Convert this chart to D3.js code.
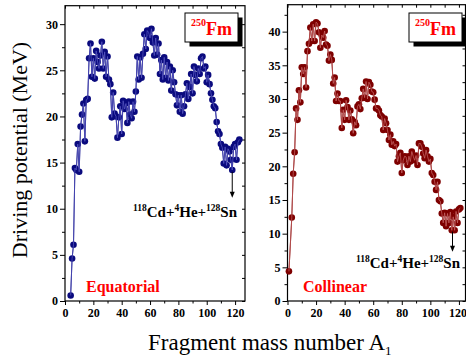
<!DOCTYPE html>
<html>
<head>
<meta charset="utf-8">
<script src="https://cdn.jsdelivr.net/npm/d3@7"></script>
<style>
  html, body { margin: 0; padding: 0; background: #fff; }
  svg { display: block; }
  text { font-family: "Liberation Serif", "Times New Roman", serif; }
</style>
</head>
<body>
<svg id="chart" width="466" height="359"></svg>
<script>
// ─── Data ────────────────────────────────────────────────────────────────────

// Equatorial orientation: fragment mass A1 and driving potential (MeV)
const eqMass = [
  4, 5, 6, 7, 8, 9, 10, 11, 12, 13, 14, 15, 16, 17, 18, 19, 20, 21, 22, 23,
  24, 25, 26, 27, 28, 29, 30, 31, 32, 33, 34, 35, 36, 37, 38, 39, 40, 41, 42, 43,
  44, 45, 46, 47, 48, 49, 50, 51, 52, 53, 54, 55, 56, 57, 58, 59, 60, 61, 62, 63,
  64, 65, 66, 67, 68, 69, 70, 71, 72, 73, 74, 75, 76, 77, 78, 79, 80, 81, 82, 83,
  84, 85, 86, 87, 88, 89, 90, 91, 92, 93, 94, 95, 96, 97, 98, 99, 100, 101, 102, 103,
  104, 105, 106, 107, 108, 109, 110, 111, 112, 113, 114, 115, 116, 117, 118, 119, 120, 121, 122, 123
]
const eqV = [
  0.6, 4.6, 6.1, 14.4, 14.2, 17.0, 14.0, 18.9, 20.2, 21.4, 17.3, 21.8, 21.9, 26.3, 27.9, 24.3, 26.3, 24.1, 27.1, 25.9,
  25.2, 26.6, 28.1, 25.2, 27.0, 24.3, 26.5, 24.0, 23.5, 19.9, 22.6, 20.3, 20.0, 17.7, 19.9, 21.1, 18.1, 21.7, 20.8, 21.4,
  19.3, 21.6, 20.2, 19.8, 21.6, 20.5, 22.7, 26.5, 24.0, 26.4, 24.2, 26.8, 28.9, 27.3, 29.3, 29.1, 28.5, 29.5, 28.0, 26.6,
  28.5, 26.7, 27.9, 24.6, 26.1, 24.0, 26.4, 24.2, 25.9, 23.9, 25.4, 22.8, 25.0, 23.7, 22.4, 21.2, 22.3, 20.5, 22.3, 20.3,
  21.1, 22.4, 23.6, 21.9, 23.2, 24.6, 22.5, 25.4, 24.5, 23.8, 25.2, 24.6, 26.3, 26.5, 25.2, 25.4, 23.7, 24.5, 23.5, 22.5,
  21.8, 21.1, 20.9, 19.4, 18.4, 18.1, 17.0, 16.6, 14.9, 16.7, 14.7, 16.5, 16.2, 15.3, 14.2, 16.7, 17.0, 15.3, 17.2, 17.5
]

// Collinear orientation
const colMass = [
  1, 3, 4, 5, 6, 7, 8, 9, 10, 11, 12, 13, 14, 15, 16, 17, 18, 19, 20, 21,
  22, 23, 24, 25, 26, 27, 28, 29, 30, 31, 32, 33, 34, 35, 36, 37, 38, 39, 40, 41,
  42, 43, 44, 45, 46, 47, 48, 49, 50, 51, 52, 53, 54, 55, 56, 57, 58, 59, 60, 61,
  62, 63, 64, 65, 66, 67, 68, 69, 70, 71, 72, 73, 74, 75, 76, 77, 78, 79, 80, 81,
  82, 83, 84, 85, 86, 87, 88, 89, 90, 91, 92, 93, 94, 95, 96, 97, 98, 99, 100, 101,
  102, 103, 104, 105, 106, 107, 108, 109, 110, 111, 112, 113, 114, 115, 116, 117, 118, 119, 120, 121
]
const colV = [
  4.4, 12.4, 18.9, 22.1, 28.6, 26.9, 31.3, 29.5, 34.7, 33.7, 34.7, 31.7, 37.1, 38.2, 40.6, 38.6, 41.1, 38.6, 41.4, 41.2,
  39.9, 37.6, 39.5, 39.1, 40.1, 38.1, 37.9, 35.7, 36.6, 35.8, 32.3, 33.2, 29.7, 30.8, 29.7, 29.7, 25.7, 28.4, 26.9, 29.8,
  28.8, 26.9, 28.3, 27.0, 24.9, 26.6, 26.1, 28.9, 29.2, 28.5, 30.1, 31.5, 30.2, 32.6, 30.0, 32.5, 32.1, 31.1, 31.0, 29.9,
  28.6, 28.6, 28.3, 27.6, 27.4, 25.4, 27.1, 26.4, 25.4, 23.9, 24.7, 23.2, 23.7, 23.0, 23.3, 20.7, 21.5, 22.0, 19.0, 20.9,
  21.5, 21.4, 20.2, 21.5, 20.7, 22.2, 21.5, 20.9, 21.6, 20.2, 23.4, 23.4, 22.9, 21.9, 21.2, 22.4, 21.5, 20.7, 21.1, 19.0,
  18.7, 17.7, 16.5, 17.7, 15.0, 14.8, 13.0, 11.6, 13.1, 11.1, 13.0, 11.6, 13.2, 10.5, 12.5, 10.5, 13.3, 11.6, 13.6, 13.8
]

// Axis ticks
const xTicks = [0, 20, 40, 60, 80, 100, 120]
const xMinor = [10, 30, 50, 70, 90, 110]
const eqYTicks = [0, 5, 10, 15, 20, 25, 30]
const colYTicks = [0, 5, 10, 15, 20, 25, 30, 35, 40]

// Arrow to the 118Cd+4He+128Sn channel: [A1, from V, to V]
const eqArrow = [118, 14.0, 11.2]
const colArrow = [115.5, 10.3, 7.3]

// ─── Layout ──────────────────────────────────────────────────────────────────

const svg = d3.select('#chart')
const FONT = '"Liberation Serif", "Times New Roman", serif'

const panels = [
  {
    mass: eqMass, v: eqV, arrow: eqArrow,
    left: 65, right: 245, top: 5.7, bottom: 301,
    xMax: 127, yMax: 32, yTicks: eqYTicks,
    dot: '#0a0a7e', line: '#5b5bc4',
    label: 'Equatorial', labelX: 86,
    boxX: 185, annoX: 133, annoY: 217,
  },
  {
    mass: colMass, v: colV, arrow: colArrow,
    left: 287.5, right: 465.5, top: 4.7, bottom: 301,
    xMax: 124.6, yMax: 44, yTicks: colYTicks,
    dot: '#7e0000', line: '#c86a6a',
    label: 'Collinear', labelX: 303,
    boxX: 409, annoX: 356, annoY: 268,
  },
]

panels.forEach((p, pi) => {
  const x = d3.scaleLinear().domain([0, p.xMax]).range([p.left, p.right])
  const y = d3.scaleLinear().domain([0, p.yMax]).range([p.bottom, p.top])
  const g = svg.append('g')

  const yMinor = d3.range(2.5, p.yMax, 5)

  // ── Axes ──────────────────────────────────────────────────────────────────
  const styleAxis = sel => {
    sel.select('.domain').remove()
    sel.selectAll('line').attr('stroke', '#000').attr('stroke-width', 1)
    sel.selectAll('text')
      .attr('fill', '#000')
      .style('font-family', FONT)
      .style('font-size', '12px')
      .style('font-weight', 'bold')
  }

  const xAxis = g.append('g').attr('transform', `translate(0,${p.bottom})`)
    .call(d3.axisBottom(x).tickValues(xTicks).tickSize(4).tickPadding(3).tickSizeOuter(0))
    .call(styleAxis)
  // the last label of the right panel sits against the picture edge
  if (pi === 1) {
    xAxis.selectAll('.tick').filter(d => d === 120).select('text')
      .attr('text-anchor', 'end').attr('dx', 7.5)
  }
  g.append('g').attr('transform', `translate(0,${p.bottom})`)
    .call(d3.axisBottom(x).tickValues(xMinor).tickSize(2.5).tickFormat('').tickSizeOuter(0))
    .call(styleAxis)
  g.append('g').attr('transform', `translate(0,${p.top})`)
    .call(d3.axisTop(x).tickValues(xTicks.concat(xMinor)).tickSize(-3).tickFormat('').tickSizeOuter(0))
    .call(styleAxis)

  g.append('g').attr('transform', `translate(${p.left},0)`)
    .call(d3.axisLeft(y).tickValues(p.yTicks).tickSize(5).tickPadding(2).tickSizeOuter(0))
    .call(styleAxis)
  g.append('g').attr('transform', `translate(${p.left},0)`)
    .call(d3.axisLeft(y).tickValues(yMinor).tickSize(3).tickFormat('').tickSizeOuter(0))
    .call(styleAxis)
  g.append('g').attr('transform', `translate(${p.right},0)`)
    .call(d3.axisRight(y).tickValues(p.yTicks.concat(yMinor)).tickSize(-3).tickFormat('').tickSizeOuter(0))
    .call(styleAxis)

  // frame
  g.append('rect')
    .attr('x', p.left).attr('y', p.top)
    .attr('width', p.right - p.left).attr('height', p.bottom - p.top)
    .attr('fill', 'none').attr('stroke', '#000').attr('stroke-width', 1.2)

  // ── Series ────────────────────────────────────────────────────────────────
  const pts = p.mass.map((a, i) => [a, p.v[i]])
  const line = d3.line().x(d => x(d[0])).y(d => y(d[1]))

  g.append('path').datum(pts)
    .attr('d', line).attr('fill', 'none')
    .attr('stroke', p.dot).attr('stroke-width', 1)

  g.append('g').selectAll('circle')
    .data(pts)
    .join('circle')
    .attr('cx', d => x(d[0]))
    .attr('cy', d => y(d[1]))
    .attr('r', 3.3)
    .attr('fill', p.dot)

  // lighter connecting line over the markers
  g.append('path').datum(pts)
    .attr('d', line).attr('fill', 'none')
    .attr('stroke', p.line).attr('stroke-width', 0.7)

  // ── Arrow ─────────────────────────────────────────────────────────────────
  const [aA, aFrom, aTo] = p.arrow
  g.append('line')
    .attr('x1', x(aA)).attr('x2', x(aA))
    .attr('y1', y(aFrom)).attr('y2', y(aTo) - 5)
    .attr('stroke', '#000').attr('stroke-width', 1)
  g.append('path')
    .attr('d', `M${x(aA) - 2.5},${y(aTo) - 6}L${x(aA) + 2.5},${y(aTo) - 6}L${x(aA)},${y(aTo)}Z`)
    .attr('fill', '#000')

  // ── Channel label ─────────────────────────────────────────────────────────
  const anno = g.append('text')
    .attr('x', p.annoX).attr('y', p.annoY)
    .attr('fill', '#000')
    .style('font-weight', 'bold').style('font-size', '15px')
  const parts = [['118', true], ['Cd+', false], ['4', true], ['He+', false], ['128', true], ['Sn', false]]
  parts.forEach(([t, sup], i) => {
    anno.append('tspan')
      .attr('dy', i === 0 ? -6 : (sup ? -6 : 6))
      .style('font-size', sup ? '9.5px' : '15px')
      .text(t)
  })

  // ── Orientation label ─────────────────────────────────────────────────────
  g.append('text')
    .attr('x', p.labelX).attr('y', 292)
    .attr('fill', '#ff0000')
    .style('font-weight', 'bold').style('font-size', '16px')
    .text(p.label)

  // ── Nucleus box ───────────────────────────────────────────────────────────
  g.append('rect')
    .attr('x', p.boxX + 4.5).attr('y', 13 + 4.5)
    .attr('width', 53).attr('height', 29)
    .attr('fill', '#000')
  g.append('rect')
    .attr('x', p.boxX).attr('y', 13)
    .attr('width', 53).attr('height', 29)
    .attr('fill', '#fff').attr('stroke', '#000').attr('stroke-width', 1)
  const nuc = g.append('text')
    .attr('x', p.boxX + 6).attr('y', 35)
    .attr('fill', '#ff0000')
    .style('font-weight', 'bold')
  nuc.append('tspan').attr('dy', -9).style('font-size', '10px').text('250')
  nuc.append('tspan').attr('dy', 9).style('font-size', '18px').text('Fm')
})

// ─── Axis titles ─────────────────────────────────────────────────────────────
svg.append('text')
  .attr('transform', 'translate(27,150) rotate(-90)')
  .attr('text-anchor', 'middle')
  .attr('fill', '#000')
  .style('font-size', '22px')
  .text('Driving potential (MeV)')

const xt = svg.append('text')
  .attr('x', 148).attr('y', 350)
  .attr('fill', '#000')
  .style('font-size', '23px')
xt.append('tspan').text('Fragment mass number A')
xt.append('tspan').attr('dy', 5).style('font-size', '13px').text('1')
</script>
</body>
</html>
